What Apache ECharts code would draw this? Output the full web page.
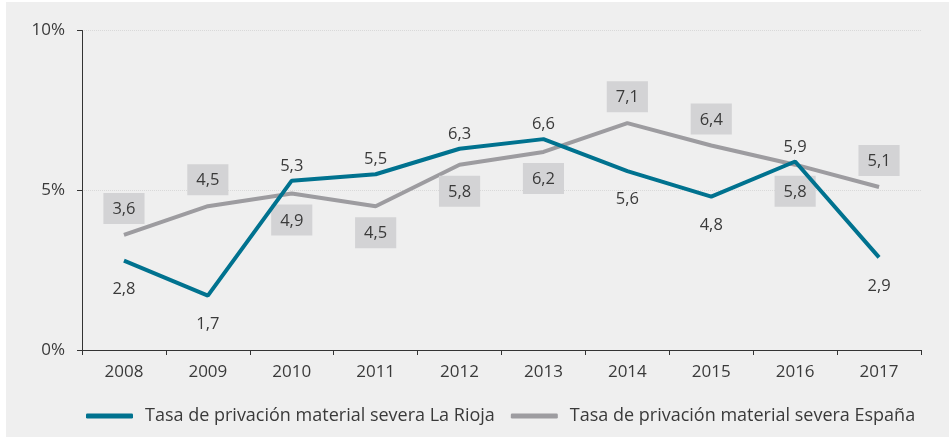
<!DOCTYPE html>
<html>
<head>
<meta charset="utf-8">
<style>
  html, body { margin: 0; padding: 0; background: #ffffff; }
  #chart {
    position: absolute;
    left: 6px;
    top: 2px;
    width: 943px;
    height: 435px;
    background: #efefef;
  }
</style>
<script src="https://cdn.jsdelivr.net/npm/echarts@6/dist/echarts.min.js"></script>
</head>
<body>
<div id="chart"></div>
<script>
// datos
var years = ["2008", "2009", "2010", "2011", "2012", "2013", "2014", "2015", "2016", "2017"];
var laRioja = [2.8, 1.7, 5.3, 5.5, 6.3, 6.6, 5.6, 4.8, 5.9, 2.9];
var espana = [3.6, 4.5, 4.9, 4.5, 5.8, 6.2, 7.1, 6.4, 5.8, 5.1];
var yTicks = [0, 5, 10];

var nameRioja = "Tasa de privación material severa La Rioja";
var nameEspana = "Tasa de privación material severa España";

var FONT = "Open Sans";
var TEXT = "#3a3a3a";

function fmt(v) {
  return String(v).replace(".", ",");
}

// la etiqueta del valor mayor va arriba, la del menor abajo
function riojaData() {
  return laRioja.map(function (v, i) {
    var up = v > espana[i];
    return {
      value: v,
      label: { position: up ? "top" : "bottom", distance: up ? 6 : 20 }
    };
  });
}
function espanaData() {
  return espana.map(function (v, i) {
    var up = v > laRioja[i];
    return {
      value: v,
      label: { position: up ? "top" : "bottom", distance: 11 }
    };
  });
}

var myChart = echarts.init(document.getElementById("chart"));
var option = {
  backgroundColor: "transparent",
  animation: false,
  textStyle: { fontFamily: FONT },
  grid: { left: 76, right: 28, top: 28.5, bottom: 87 },
  legend: {
    left: 75,
    top: 400,
    itemGap: 16,
    itemWidth: 47,
    itemHeight: 5,
    icon: "roundRect",
    textStyle: { fontFamily: FONT, fontSize: 18, color: TEXT, padding: [0, 0, 0, 7] },
    data: [nameRioja, nameEspana]
  },
  xAxis: {
    type: "category",
    data: years,
    boundaryGap: true,
    axisLine: { lineStyle: { color: "#333333", width: 1 } },
    axisTick: { show: true, length: 5, lineStyle: { color: "#333333" } },
    axisLabel: { color: TEXT, fontFamily: FONT, fontSize: 17, margin: 14 },
    splitLine: { show: false }
  },
  yAxis: {
    type: "value",
    min: 0,
    max: 10,
    interval: 5,
    axisLine: { show: true, lineStyle: { color: "#333333", width: 1 } },
    axisTick: { show: true, length: 5, lineStyle: { color: "#333333" } },
    axisLabel: {
      color: TEXT,
      fontFamily: FONT,
      fontSize: 17,
      margin: 17,
      formatter: function (v) {
        return yTicks.indexOf(v) >= 0 ? v + "%" : "";
      }
    },
    splitLine: { show: true, lineStyle: { color: "#d9d9d9", type: "dotted", width: 1 } }
  },
  series: [
    {
      name: nameEspana,
      type: "line",
      data: espanaData(),
      showSymbol: true,
      symbol: "circle",
      symbolSize: 0.01,
      z: 2,
      lineStyle: { color: "#9d9ca0", width: 4 },
      itemStyle: { color: "#9d9ca0" },
      label: {
        show: true,
        color: TEXT,
        fontFamily: FONT,
        fontSize: 16.5,
        backgroundColor: "#d3d3d5",
        padding: [8, 9, 6, 9],
        formatter: function (p) { return fmt(p.value); }
      }
    },
    {
      name: nameRioja,
      type: "line",
      data: riojaData(),
      showSymbol: true,
      symbol: "circle",
      symbolSize: 0.01,
      z: 3,
      lineStyle: { color: "#00728f", width: 4 },
      itemStyle: { color: "#00728f" },
      label: {
        show: true,
        color: TEXT,
        fontFamily: FONT,
        fontSize: 16.5,
        formatter: function (p) { return fmt(p.value); }
      }
    }
  ]
};
myChart.setOption(option);
</script>
</body>
</html>
